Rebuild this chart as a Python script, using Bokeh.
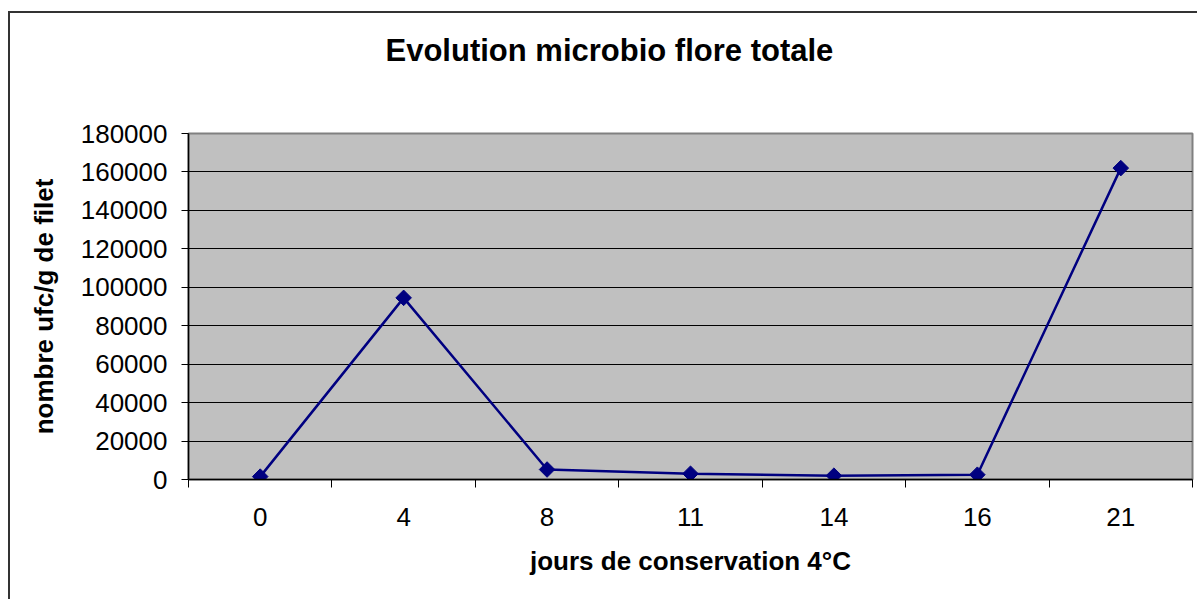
from bokeh.plotting import figure
from bokeh.models import FixedTicker, Range1d, BasicTickFormatter, Title
from bokeh.embed import file_html
from bokeh.resources import INLINE

days = ["0", "4", "8", "11", "14", "16", "21"]
counts = [1500, 94500, 5200, 3000, 2000, 2500, 162000]
y_ticks = [0, 20000, 40000, 60000, 80000, 100000, 120000, 140000, 160000, 180000]
title_text = "Evolution microbio flore totale"

FONT = "Liberation Sans"
xs = list(range(len(days)))

p = figure(width=1189, height=588, output_backend="svg", toolbar_location=None,
           x_range=Range1d(-0.5, len(days) - 0.5), y_range=Range1d(0, 180000),
           min_border_left=178, min_border_right=7, min_border_top=120,
           min_border_bottom=122)
p.styles = {"border-left": "2px solid #333", "border-top": "2px solid #333",
            "margin-top": "11px", "margin-left": "8px"}

# spacer between frame and title (closest to the frame)
p.add_layout(Title(text=" ", text_font_size="1px", standoff=42), "above")
p.title = Title(text=title_text, align="left", offset=197, vertical_align="top",
                text_font=FONT, text_font_size="31px", text_font_style="bold",
                text_color="black", standoff=38)

p.background_fill_color = "#C0C0C0"
p.border_fill_color = "white"
p.outline_line_color = "#808080"
p.outline_line_width = 2

# y axis
p.yaxis.ticker = FixedTicker(ticks=y_ticks)
p.yaxis.formatter = BasicTickFormatter(use_scientific=False)
p.yaxis.major_tick_in = 0
p.yaxis.major_tick_out = 7
p.yaxis.minor_tick_line_color = None
p.yaxis.axis_line_color = "black"
p.yaxis.axis_line_width = 1.5
p.yaxis.major_label_text_font = FONT
p.yaxis.major_label_text_font_size = "26px"
p.yaxis.major_label_text_color = "black"
p.yaxis.major_label_standoff = 14
p.yaxis.axis_label = "nombre ufc/g de filet"
p.yaxis.axis_label_text_font = FONT
p.yaxis.axis_label_text_font_size = "26px"
p.yaxis.axis_label_text_font_style = "bold"
p.yaxis.axis_label_text_color = "black"
p.yaxis.axis_label_standoff = 19

# x axis
minor = [i - 0.5 for i in range(len(days) + 1)]
p.xaxis.ticker = FixedTicker(ticks=xs, minor_ticks=minor)
p.xaxis.major_label_overrides = {i: d for i, d in enumerate(days)}
p.xaxis.major_tick_line_color = None
p.xaxis.major_tick_in = 0
p.xaxis.major_tick_out = 0
p.xaxis.minor_tick_in = 0
p.xaxis.minor_tick_out = 8
p.xaxis.minor_tick_line_color = "black"
p.xaxis.axis_line_color = "black"
p.xaxis.axis_line_width = 1.5
p.xaxis.major_label_text_font = FONT
p.xaxis.major_label_text_font_size = "26px"
p.xaxis.major_label_text_color = "black"
p.xaxis.major_label_standoff = 20
p.xaxis.axis_label = "jours de conservation 4°C"
p.xaxis.axis_label_text_font = FONT
p.xaxis.axis_label_text_font_size = "26px"
p.xaxis.axis_label_text_font_style = "bold"
p.xaxis.axis_label_text_color = "black"
p.xaxis.axis_label_standoff = 17

p.xgrid.grid_line_color = None
p.ygrid.ticker = FixedTicker(ticks=y_ticks)
p.ygrid.grid_line_color = "black"
p.ygrid.grid_line_width = 1

p.line(xs, counts, line_color="#000080", line_width=2.5)
p.scatter(xs, counts, marker="square", angle=0.785398, size=11,
          fill_color="#000080", line_color="#000080")

open("out.html", "w").write(file_html(p, INLINE))
